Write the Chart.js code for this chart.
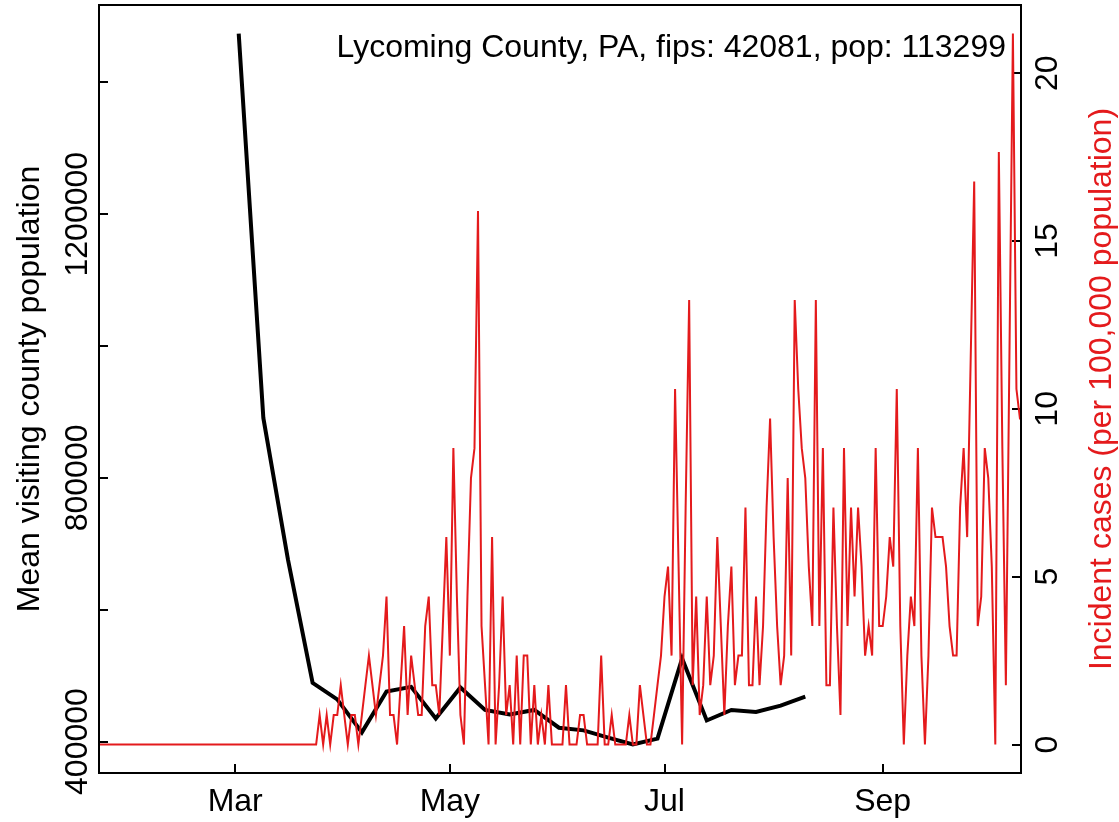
<!DOCTYPE html>
<html>
<head>
<meta charset="utf-8">
<script src="https://cdn.jsdelivr.net/npm/chart.js@4.4.0/dist/chart.umd.min.js"></script>
<style>
  html, body { margin: 0; padding: 0; background: #fff; }
  canvas { display: block; }
</style>
</head>
<body>
<canvas id="chart" width="1119" height="822"></canvas>
<script>
// x values are day-of-year 2020 (Jan 1 = 0)
const xTickDays = [60, 121, 182, 244];
const xTickLabels = ['Mar', 'May', 'Jul', 'Sep'];

// weekly mean visiting county population
const visitDays = [61, 68, 75, 82, 89, 96, 103, 110, 117, 124, 131, 138,
                   145, 152, 159, 166, 173, 180, 187, 194, 201, 208, 215, 222];
const visitPop = [1474000, 891000, 676000, 489000, 464000, 414000, 476000, 483000,
                  435000, 482000, 448000, 441000, 448000, 421000, 417000, 406000,
                  395500, 404500, 526000, 432000, 448000, 445000, 454500, 468000];

// daily incident cases per 100,000, starting at caseStartDay
const caseStartDay = 20;
const casesPer100k = [
  0,0,0,0,0,0,0,0,0,0,0,0,0,0,0,0,
  0,0,0,0,0,0,0,0,0,0,0,0,0,0,0,0,
  0,0,0,0,0,0,0,0,0,0,0,0,0,0,0,0,
  0,0,0,0,0,0,0,0,0,0,0,0,0,0,0,0,
  0.88,0,0.88,0,0.88,0.88,1.77,0.88,0,0.88,
  0.88,0,0.88,1.77,2.65,1.77,0.88,1.77,2.65,4.41,
  0.88,0.88,0,1.77,3.53,0.88,2.65,1.77,0.88,0.88,
  3.53,4.41,1.77,1.77,0.88,3.53,6.18,2.65,8.83,4.41,
  0.88,0,4.41,7.94,8.83,15.89,3.53,1.77,0,6.18,
  0,1.77,4.41,0.88,1.77,0,2.65,0,2.65,2.65,
  0,1.77,0,0.88,0,1.77,0,0,0,0,
  1.77,0,0,0,0.88,0.88,0,0,0,0,
  2.65,0,0,0.88,0,0,0,0,0.88,0,
  0,1.77,0.88,0,0,0.88,1.77,2.65,4.41,5.30,
  2.65,10.59,5.30,0,7.06,13.24,1.77,4.41,0.88,1.77,
  4.41,1.77,2.65,6.18,3.53,0.88,3.53,5.30,1.77,2.65,
  2.65,7.06,1.77,1.77,4.41,1.77,3.53,7.06,9.71,6.18,
  3.53,1.77,2.65,7.94,2.65,13.24,10.59,8.83,7.94,5.30,
  3.53,13.24,3.53,8.83,1.77,1.77,7.06,3.53,0.88,8.83,
  3.53,7.06,4.41,7.06,5.30,2.65,3.53,2.65,8.83,3.53,
  3.53,4.41,6.18,5.30,10.59,3.53,0,2.65,4.41,3.53,
  8.83,2.65,0,2.65,7.06,6.18,6.18,6.18,5.30,3.53,
  2.65,2.65,7.06,8.83,6.18,11.47,16.77,3.53,4.41,8.83,
  7.94,5.30,0,17.65,8.83,1.77,11.47,21.18,10.59,9.71,9.71
];

const leftTicks = [400000, 600000, 800000, 1000000, 1200000, 1400000];
const leftTickLabels = ['400000', '', '800000', '', '1200000', ''];
const rightTicks = [0, 5, 10, 15, 20];
const rightTickLabels = ['0', '5', '10', '15', '20'];

const titleText = 'Lycoming County, PA, fips: 42081, pop: 113299';
const leftTitle = 'Mean visiting county population';
const rightTitle = 'Incident cases (per 100,000 population)';

const RED = '#e41a1c';
const FONT = '32px "Liberation Sans", Arial, sans-serif';

const tickGrid = { display: true, drawOnChartArea: false, drawTicks: true, tickLength: -9, color: '#000', lineWidth: 2 };

// R-style box, axis labels and titles
const rText = {
    id: 'rText',
    afterDraw(chart) {
        const ctx = chart.ctx;
        const a = chart.chartArea;
        const sx = chart.scales.x, sl = chart.scales.yL, sr = chart.scales.yR;
        ctx.save();
        ctx.strokeStyle = '#000';
        ctx.lineWidth = 2;
        ctx.strokeRect(a.left, a.top, a.right - a.left, a.bottom - a.top);

        ctx.font = FONT;
        ctx.fillStyle = '#000';
        ctx.textAlign = 'center';
        ctx.textBaseline = 'alphabetic';
        xTickDays.forEach((d, i) => ctx.fillText(xTickLabels[i], sx.getPixelForValue(d), 811));

        function vtext(str, cx, cy, color) {
            ctx.save();
            ctx.translate(cx, cy);
            ctx.rotate(-Math.PI / 2);
            ctx.fillStyle = color;
            ctx.fillText(str, 0, 0);
            ctx.restore();
        }
        leftTicks.forEach((v, i) => {
            if (leftTickLabels[i]) vtext(leftTickLabels[i], 87, sl.getPixelForValue(v), '#000');
        });
        rightTicks.forEach((v, i) => vtext(rightTickLabels[i], 1057, sr.getPixelForValue(v), '#000'));

        const midY = (a.top + a.bottom) / 2;
        vtext(leftTitle, 39, midY, '#000');
        vtext(rightTitle, 1111, midY, RED);

        ctx.textAlign = 'right';
        ctx.fillText(titleText, 1006, 57);
        ctx.restore();
    }
};

new Chart(document.getElementById('chart'), {
    type: 'line',
    data: {
        datasets: [{
            label: 'cases',
            data: casesPer100k.map((v, i) => ({ x: caseStartDay + i, y: v })),
            yAxisID: 'yR',
            borderColor: RED,
            borderWidth: 2,
            pointRadius: 0,
            tension: 0,
            clip: 0
        }, {
            label: 'visitors',
            data: visitDays.map((d, i) => ({ x: d, y: visitPop[i] })),
            yAxisID: 'yL',
            borderColor: '#000',
            borderWidth: 4,
            pointRadius: 0,
            tension: 0,
            clip: 0
        }]
    },
    options: {
        responsive: false,
        animation: false,
        devicePixelRatio: 1,
        layout: { padding: { top: 5, left: 0, right: 0, bottom: 0 } },
        plugins: { legend: { display: false }, tooltip: { enabled: false } },
        scales: {
            x: {
                type: 'linear',
                position: 'bottom',
                min: 21.3,
                max: 283.3,
                afterBuildTicks: s => { s.ticks = xTickDays.map(v => ({ value: v })); },
                afterFit: s => { s.height = 49; },
                grid: tickGrid,
                border: { display: false },
                ticks: { display: false }
            },
            yL: {
                type: 'linear',
                position: 'left',
                min: 352300,
                max: 1517400,
                afterBuildTicks: s => { s.ticks = leftTicks.map(v => ({ value: v })); },
                afterFit: s => { s.width = 99; },
                grid: tickGrid,
                border: { display: false },
                ticks: { display: false }
            },
            yR: {
                type: 'linear',
                position: 'right',
                min: -0.847,
                max: 22.03,
                afterBuildTicks: s => { s.ticks = rightTicks.map(v => ({ value: v })); },
                afterFit: s => { s.width = 98; },
                grid: tickGrid,
                border: { display: false },
                ticks: { display: false }
            }
        }
    },
    plugins: [rText]
});
</script>
</body>
</html>
